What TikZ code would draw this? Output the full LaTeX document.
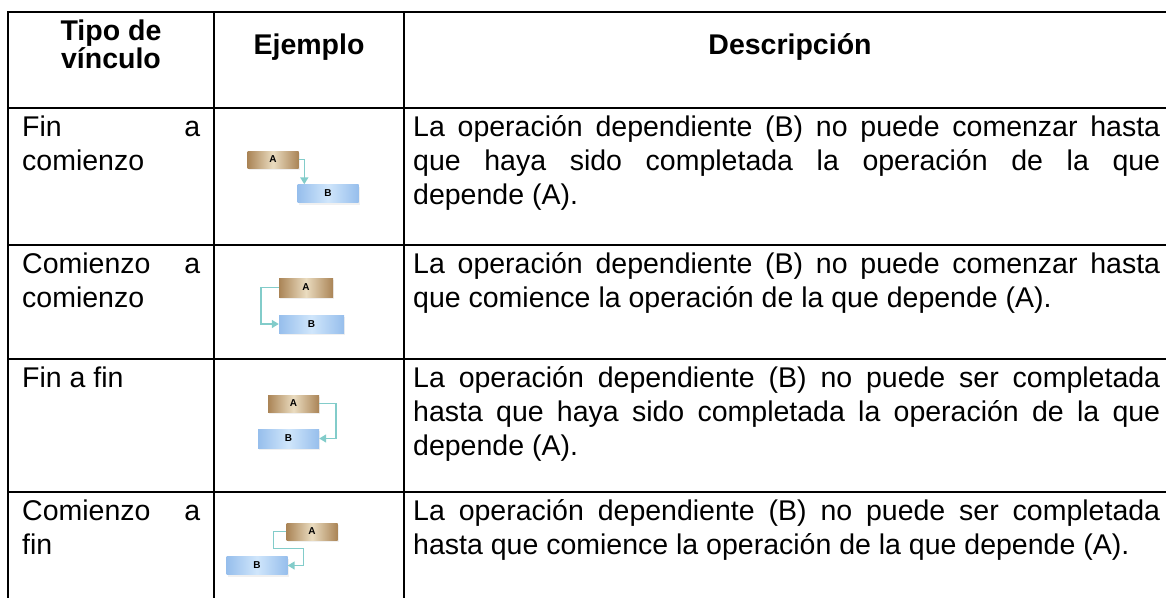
\documentclass[tikz,border=0pt]{standalone}
\usepackage{fontspec}
\setmainfont{Liberation Sans}
\usetikzlibrary{arrows.meta, positioning, calc, shadows}

\definecolor{tanD}{RGB}{170,132,86}
\definecolor{tanL}{RGB}{234,220,192}
\definecolor{bluD}{RGB}{150,190,236}
\definecolor{bluL}{RGB}{208,230,251}
\definecolor{linkc}{RGB}{130,204,202}

\newcommand\rowlines[1]{\vtop{\baselineskip=34pt #1}}
\newcommand\jline[2]{\hbox to #1{#2}}

\tikzset{
  rule/.style={line width=2pt},
  opbox/.style={inner sep=0pt, font=\bfseries\fontsize{10}{10}\selectfont,
    drop shadow={opacity=0.12, shadow xshift=1pt, shadow yshift=-2pt}},
  opa/.style={opbox, minimum width=51pt, minimum height=17pt,
    left color=tanD, right color=tanD, middle color=tanL},
  opb/.style={opbox, minimum width=61pt, minimum height=18pt,
    left color=bluD, right color=bluD, middle color=bluL},
  link/.style={draw=linkc, line width=1.6pt, -{Triangle[length=7pt,width=8pt]}},
  txt/.style={anchor=base west, inner sep=0pt, font=\fontsize{28.5}{34}\selectfont},
  head/.style={anchor=base, inner sep=0pt, font=\bfseries\fontsize{28.5}{32}\selectfont}
}

\begin{document}
\begin{tikzpicture}[x=1pt, y=-1pt]
  \useasboundingbox (0,0) rectangle (1166,597);

  % table rules
  \foreach \y in {12,108,245,359,492}
    \draw[rule] (7,\y) -- (1170,\y);
  \foreach \x in {8,214,404}
    \draw[rule] (\x,11) -- (\x,600);

  % header
  \node[head] (tipo) at (111,40) {Tipo de};
  \node[head] (vinc) at (111,68) {vínculo};
  \node[head] (ejem) at (309,54) {Ejemplo};
  \node[head] (desc) at (790,54) {Descripción};

  % fin a comienzo
  \node[txt] (t1) at (22,136) {\rowlines{\jline{178pt}{Fin a}\hbox{comienzo}}};
  \node[txt] (d1) at (413,136) {\rowlines{%
    \jline{747pt}{La operación dependiente (B) no puede comenzar hasta}%
    \jline{747pt}{que haya sido completada la operación de la que}%
    \hbox{depende (A).}}};
  \node[opa] (a1) at (273,159.5) {A};
  \node[opb] (b1) at (328,193.5) {B};
  \draw[link] (a1.east) -| ([xshift=7pt]b1.north west);

  % comienzo a comienzo
  \node[txt] (t2) at (22,273) {\rowlines{\jline{178pt}{Comienzo a}\hbox{comienzo}}};
  \node[txt] (d2) at (413,273) {\rowlines{%
    \jline{747pt}{La operación dependiente (B) no puede comenzar hasta}%
    \hbox{que comience la operación de la que depende (A).}}};
  \node[opa, minimum width=54pt, minimum height=19pt] (a2) at (306,287.5) {A};
  \node[opb, minimum width=65pt] (b2) at (311.5,324) {B};
  \draw[link] (a2.west) -- ++(-18,0) |- (b2.west);

  % fin a fin
  \node[txt] (t3) at (22,387) {Fin a fin};
  \node[txt] (d3) at (413,387) {\rowlines{%
    \jline{747pt}{La operación dependiente (B) no puede ser completada}%
    \jline{747pt}{hasta que haya sido completada la operación de la que}%
    \hbox{depende (A).}}};
  \node[opa] (a3) at (293.5,403.5) {A};
  \node[opb, minimum height=19pt] (b3) at (288.5,438.5) {B};
  \draw[link] (a3.east) -- ++(17,0) |- (b3.east);

  % comienzo a fin
  \node[txt] (t4) at (22,520) {\rowlines{\jline{178pt}{Comienzo a}\hbox{fin}}};
  \node[txt] (d4) at (413,520) {\rowlines{%
    \jline{747pt}{La operación dependiente (B) no puede ser completada}%
    \hbox{hasta que comience la operación de la que depende (A).}}};
  \node[opa] (a4) at (312,531.5) {A};
  \node[opb] (b4) at (257,565.5) {B};
  \draw[link] (a4.west) -- ++(-13,0) -- ++(0,17) -- ++(30,0) |- (b4.east);
\end{tikzpicture}
\end{document}
